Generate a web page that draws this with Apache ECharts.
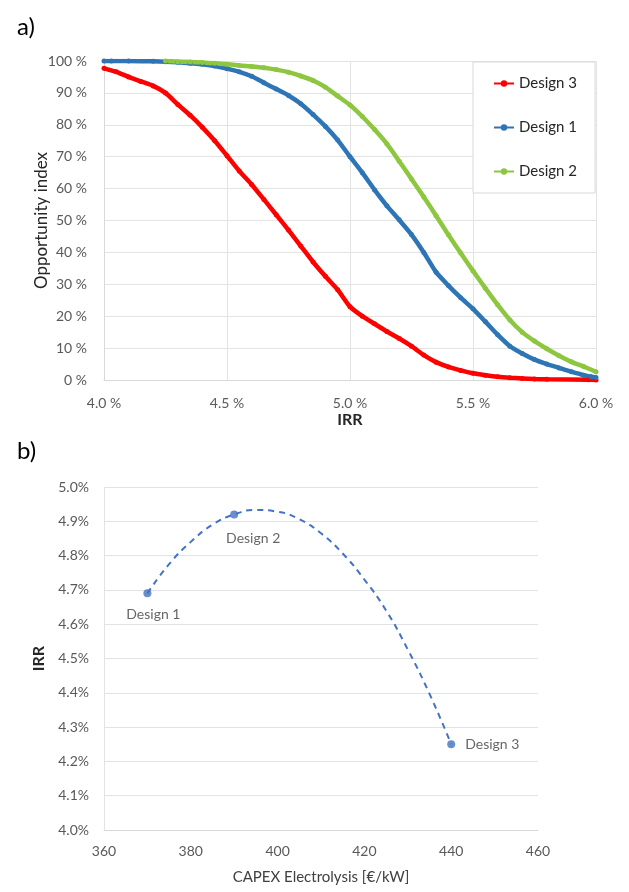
<!DOCTYPE html>
<html>
<head>
<meta charset="utf-8">
<script src="https://cdn.jsdelivr.net/npm/echarts@6/dist/echarts.min.js"></script>
<style>
  html, body { margin: 0; padding: 0; background: #fff; }
  #chart { width: 629px; height: 892px; }
</style>
</head>
<body>
<div id="chart"></div>
<script>
// ---- a) opportunity index vs IRR ----
const design3 = [
  [4.00, 97.7], [4.05, 96.6], [4.10, 95.0], [4.15, 93.6], [4.20, 92.2], [4.25, 90.0],
  [4.30, 86.4], [4.35, 83.0], [4.40, 79.2], [4.45, 75.0], [4.50, 70.3], [4.55, 65.5],
  [4.60, 61.3], [4.65, 56.6], [4.70, 51.8], [4.75, 47.0], [4.80, 42.0], [4.85, 37.0],
  [4.90, 32.5], [4.95, 28.3], [5.00, 23.0], [5.05, 20.0], [5.10, 17.6], [5.15, 15.2],
  [5.20, 13.0], [5.25, 10.6], [5.30, 7.8], [5.35, 5.6], [5.40, 4.1], [5.45, 3.0],
  [5.50, 2.1], [5.55, 1.5], [5.60, 1.0], [5.65, 0.7], [5.70, 0.5], [5.75, 0.3],
  [5.80, 0.2], [5.97, 0.1], [6.00, 0.0]
];

const design1 = [
  [4.00, 100], [4.03, 100], [4.10, 100], [4.20, 99.9], [4.25, 99.8], [4.30, 99.6],
  [4.35, 99.3], [4.40, 99.0], [4.45, 98.4], [4.50, 97.6], [4.55, 96.6], [4.60, 95.2],
  [4.65, 93.2], [4.70, 91.2], [4.75, 89.2], [4.80, 86.6], [4.85, 83.2], [4.90, 79.5],
  [4.95, 75.2], [5.00, 70.0], [5.05, 65.0], [5.10, 59.6], [5.15, 54.6], [5.20, 50.2],
  [5.25, 45.6], [5.30, 40.0], [5.35, 33.8], [5.40, 29.6], [5.45, 25.8], [5.50, 22.3],
  [5.55, 18.3], [5.60, 14.2], [5.65, 10.6], [5.70, 8.3], [5.75, 6.4], [5.80, 5.0],
  [5.85, 3.8], [5.90, 2.6], [5.95, 1.5], [5.98, 1.0], [6.00, 0.8]
];

const design2 = [
  [4.25, 100], [4.30, 99.8], [4.35, 99.7], [4.40, 99.5], [4.45, 99.3], [4.50, 99.0],
  [4.55, 98.6], [4.60, 98.3], [4.65, 97.9], [4.70, 97.3], [4.75, 96.5], [4.80, 95.3],
  [4.85, 93.9], [4.90, 91.8], [4.95, 89.0], [5.00, 86.2], [5.05, 82.6], [5.10, 78.5],
  [5.15, 74.0], [5.20, 68.6], [5.25, 63.0], [5.30, 57.4], [5.35, 51.5], [5.40, 45.5],
  [5.45, 39.8], [5.50, 34.2], [5.55, 28.8], [5.60, 23.6], [5.65, 18.8], [5.70, 15.0],
  [5.75, 12.2], [5.80, 9.8], [5.85, 7.6], [5.90, 5.7], [5.95, 4.2], [6.00, 2.6]
];

// ---- b) IRR vs CAPEX ----
const designNames = ['Design 1', 'Design 2', 'Design 3'];
const capex = [370, 390, 440];
const irr = [4.69, 4.92, 4.25];
// dashed trend line
const trendCapex = [370, 375, 380, 385, 390, 395, 400, 405, 410, 415, 420, 425, 430, 435, 440];
const trendIrr = [4.69, 4.775, 4.84, 4.89, 4.92, 4.933, 4.928, 4.906, 4.865, 4.806, 4.73, 4.64, 4.526, 4.397, 4.25];

const FONT = 'Lato, "Open Sans", sans-serif';
const tickColor = '#595959';
const gridColor = '#e3e3e3';

const chart = echarts.init(document.getElementById('chart'), null, { renderer: 'canvas' });

const labelOffsets = [[6, 0], [19, 3], [0, 0]];
const labelPositions = ['bottom', 'bottom', 'right'];

const option = {
  animation: false,
  textStyle: { fontFamily: FONT },
  title: [
    { text: 'a)', left: 12, top: 10, textStyle: { fontFamily: FONT, fontSize: 24, fontWeight: 'normal', color: '#000' } },
    { text: 'b)', left: 12, top: 434, textStyle: { fontFamily: FONT, fontSize: 24, fontWeight: 'normal', color: '#000' } }
  ],
  legend: {
    data: ['Design 3', 'Design 1', 'Design 2'],
    orient: 'vertical',
    left: 473,
    top: 62,
    padding: [14, 18, 14, 20],
    itemGap: 29,
    itemWidth: 20,
    itemHeight: 8,
    backgroundColor: '#fff',
    borderColor: '#d9d9d9',
    borderWidth: 1,
    textStyle: { fontFamily: FONT, fontSize: 15, color: '#262626' }
  },
  grid: [
    { left: 104, right: 33, top: 61, bottom: 512 },
    { left: 104, right: 91, top: 487, bottom: 62 }
  ],
  xAxis: [
    {
      gridIndex: 0,
      type: 'value',
      min: 4.0, max: 6.0, interval: 0.5,
      name: 'IRR',
      nameLocation: 'middle',
      nameGap: 32,
      nameMoveOverlap: false,
      nameTextStyle: { fontFamily: FONT, fontSize: 16, fontWeight: 'bold', color: '#262626' },
      axisLine: { show: true, lineStyle: { color: '#d9d9d9', width: 1 } },
      axisTick: { show: false },
      splitLine: { show: true, lineStyle: { color: gridColor } },
      axisLabel: { margin: 16, fontSize: 14, color: tickColor, formatter: v => v.toFixed(1) + ' %' }
    },
    {
      gridIndex: 1,
      type: 'value',
      min: 360, max: 460, interval: 20,
      name: 'CAPEX Electrolysis [€/kW]',
      nameLocation: 'middle',
      nameGap: 40,
      nameMoveOverlap: false,
      nameTextStyle: { fontFamily: FONT, fontSize: 15, color: '#404040' },
      axisLine: { show: true, lineStyle: { color: '#d9d9d9', width: 1 } },
      axisTick: { show: false },
      splitLine: { show: false },
      axisLabel: { margin: 14, fontSize: 14, color: tickColor }
    }
  ],
  yAxis: [
    {
      gridIndex: 0,
      type: 'value',
      min: 0, max: 100, interval: 10,
      name: 'Opportunity index',
      nameLocation: 'middle',
      nameGap: 54,
      nameMoveOverlap: false,
      nameTextStyle: { fontFamily: FONT, fontSize: 17, color: '#262626' },
      axisLine: { show: true, lineStyle: { color: '#d9d9d9', width: 1 } },
      axisTick: { show: false },
      splitLine: { show: true, lineStyle: { color: gridColor } },
      axisLabel: { margin: 17, fontSize: 14, color: tickColor, formatter: v => v + ' %' }
    },
    {
      gridIndex: 1,
      type: 'value',
      min: 4.0, max: 5.0, interval: 0.1,
      name: 'IRR',
      nameLocation: 'middle',
      nameGap: 57,
      nameMoveOverlap: false,
      nameTextStyle: { fontFamily: FONT, fontSize: 16, fontWeight: 'bold', color: '#262626' },
      axisLine: { show: true, lineStyle: { color: '#e3e3e3', width: 1 } },
      axisTick: { show: false },
      splitLine: { show: true, lineStyle: { color: gridColor } },
      axisLabel: { margin: 15, fontSize: 14, color: tickColor, formatter: v => v.toFixed(1) + '%' }
    }
  ],
  series: [
    {
      name: 'Design 3', type: 'line', xAxisIndex: 0, yAxisIndex: 0,
      data: design3,
      smooth: 0.2,
      symbol: 'circle', symbolSize: 5,
      itemStyle: { color: '#ff0000' },
      lineStyle: { color: '#ff0000', width: 4.5 }
    },
    {
      name: 'Design 1', type: 'line', xAxisIndex: 0, yAxisIndex: 0,
      data: design1,
      smooth: 0.2,
      symbol: 'circle', symbolSize: 5,
      itemStyle: { color: '#2e75b6' },
      lineStyle: { color: '#2e75b6', width: 4.5 }
    },
    {
      name: 'Design 2', type: 'line', xAxisIndex: 0, yAxisIndex: 0,
      data: design2,
      smooth: 0.2,
      symbol: 'circle', symbolSize: 5,
      itemStyle: { color: '#8dc63f' },
      lineStyle: { color: '#8dc63f', width: 4.5 }
    },
    {
      name: 'trend', type: 'line', xAxisIndex: 1, yAxisIndex: 1,
      data: trendCapex.map((c, i) => [c, trendIrr[i]]),
      smooth: true,
      showSymbol: false,
      lineStyle: { color: '#4472c4', width: 2, type: [6, 5] },
      z: 2
    },
    {
      name: 'designs', type: 'scatter', xAxisIndex: 1, yAxisIndex: 1,
      symbolSize: 8,
      itemStyle: { color: '#4472c4' },
      z: 3,
      data: capex.map((c, i) => ({
        value: [c, irr[i]],
        name: designNames[i],
        label: {
          show: true,
          position: labelPositions[i],
          offset: labelOffsets[i],
          distance: 10,
          formatter: '{b}',
          fontFamily: FONT,
          fontSize: 14,
          color: '#404040'
        }
      }))
    }
  ]
};

chart.setOption(option);
</script>
</body>
</html>
